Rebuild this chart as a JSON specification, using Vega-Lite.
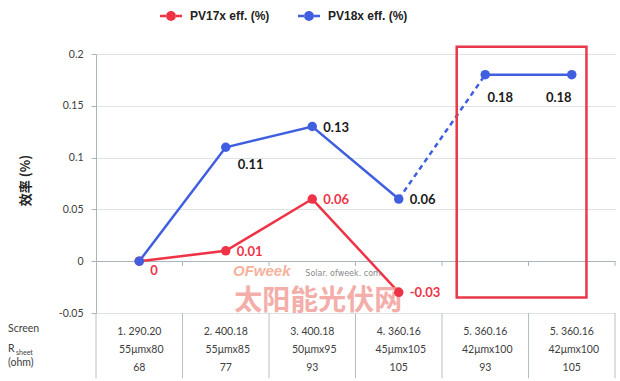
{
  "$schema": "https://vega.github.io/schema/vega-lite/v6.json",
  "width": 519,
  "height": 259,
  "autosize": {"type": "none"},
  "padding": {"left": 96, "top": 54, "right": 5, "bottom": 68},
  "background": "white",
  "config": {"view": {"stroke": null}, "font": "Lato"},
  "datasets": {
    "pts": [
      {"x": 1, "series": "PV17x eff. (%)", "v": 0, "label": "0"},
      {"x": 2, "series": "PV17x eff. (%)", "v": 0.01, "label": "0.01"},
      {"x": 3, "series": "PV17x eff. (%)", "v": 0.06, "label": "0.06"},
      {"x": 4, "series": "PV17x eff. (%)", "v": -0.03, "label": "-0.03"},
      {"x": 1, "series": "PV18x eff. (%)", "v": 0, "label": ""},
      {"x": 2, "series": "PV18x eff. (%)", "v": 0.11, "label": "0.11"},
      {"x": 3, "series": "PV18x eff. (%)", "v": 0.13, "label": "0.13"},
      {"x": 4, "series": "PV18x eff. (%)", "v": 0.06, "label": "0.06"},
      {"x": 5, "series": "PV18x eff. (%)", "v": 0.18, "label": "0.18"},
      {"x": 6, "series": "PV18x eff. (%)", "v": 0.18, "label": "0.18"}
    ],
    "table": [
      {"x": 1, "screen": "1. 290.20", "mesh": "55μmx80", "ohm": "68"},
      {"x": 2, "screen": "2. 400.18", "mesh": "55μmx85", "ohm": "77"},
      {"x": 3, "screen": "3. 400.18", "mesh": "50μmx95", "ohm": "93"},
      {"x": 4, "screen": "4. 360.16", "mesh": "45μmx105", "ohm": "105"},
      {"x": 5, "screen": "5. 360.16", "mesh": "42μmx100", "ohm": "93"},
      {"x": 6, "screen": "5. 360.16", "mesh": "42μmx100", "ohm": "105"}
    ],
    "bounds": [{"b": 0.5}, {"b": 1.5}, {"b": 2.5}, {"b": 3.5}, {"b": 4.5}, {"b": 5.5}, {"b": 6.5}],
    "box": [{"x1": 4.67, "x2": 6.17, "y1": -0.035, "y2": 0.207}],
    "one": [{}]
  },
  "layer": [
    {
      "data": {"name": "pts"},
      "transform": [{"filter": "datum.series === 'PV17x eff. (%)'"}],
      "mark": {"type": "line", "color": "#ee3347", "strokeWidth": 2.5},
      "encoding": {
        "x": {"field": "x", "type": "quantitative", "scale": {"domain": [0.5, 6.5], "nice": false, "zero": false}, "axis": null},
        "y": {"field": "v", "type": "quantitative", "scale": {"domain": [-0.05, 0.2], "nice": false, "zero": false},
          "axis": {
            "values": [-0.05, 0, 0.05, 0.1, 0.15, 0.2],
            "labelExpr": "datum.value < 0 ? '-' + format(-datum.value, '~g') : format(datum.value, '~g')",
            "labelFont": "Lato", "labelFontSize": 10.5, "labelColor": "#404040", "labelPadding": 8,
            "tickSize": 5, "tickColor": "#a9b5bd", "domainColor": "#a9b5bd",
            "grid": true,
            "gridColor": {"condition": {"test": "datum.value === 0", "value": "#a9b5bd"}, "value": "#dde3e7"},
            "title": "效率 (%)", "titleFont": "Noto Sans CJK SC", "titleFontSize": 13, "titleFontWeight": "bold",
            "titleColor": "#222222", "titleX": -71, "titleY": 126, "titleAngle": 270, "titleAlign": "center", "titleBaseline": "middle"
          }}
      }
    },
    {
      "data": {"name": "bounds"},
      "mark": {"type": "rule", "color": "#b5c0c6", "strokeWidth": 1},
      "encoding": {
        "x": {"field": "b", "type": "quantitative", "axis": null},
        "y": {"datum": -0.05, "type": "quantitative"},
        "y2": {"datum": -0.113}
      }
    },
    {
      "data": {"name": "bounds"},
      "transform": [{"filter": "datum.b > 1"}],
      "mark": {"type": "rule", "color": "#a9b5bd", "strokeWidth": 1},
      "encoding": {
        "x": {"field": "b", "type": "quantitative", "axis": null},
        "y": {"datum": 0, "type": "quantitative"},
        "y2": {"datum": -0.0045}
      }
    },
    {
      "data": {"name": "table"},
      "mark": {"type": "text", "font": "Lato", "fontSize": 10.5, "color": "#404040", "baseline": "middle", "dy": 19},
      "encoding": {
        "x": {"field": "x", "type": "quantitative", "axis": null},
        "y": {"datum": -0.05, "type": "quantitative"},
        "text": {"field": "screen"}
      }
    },
    {
      "data": {"name": "table"},
      "mark": {"type": "text", "font": "Lato", "fontSize": 10.5, "color": "#404040", "baseline": "middle", "dy": 37, "dx": 2},
      "encoding": {
        "x": {"field": "x", "type": "quantitative", "axis": null},
        "y": {"datum": -0.05, "type": "quantitative"},
        "text": {"field": "mesh"}
      }
    },
    {
      "data": {"name": "table"},
      "mark": {"type": "text", "font": "Lato", "fontSize": 10.5, "color": "#404040", "baseline": "middle", "dy": 55},
      "encoding": {
        "x": {"field": "x", "type": "quantitative", "axis": null},
        "y": {"datum": -0.05, "type": "quantitative"},
        "text": {"field": "ohm"}
      }
    },
    {
      "data": {"name": "one"},
      "mark": {"type": "text", "font": "Lato", "fontSize": 10.5, "color": "#404040", "baseline": "middle", "align": "left", "dx": -88, "dy": 16},
      "encoding": {
        "x": {"datum": 0.5, "type": "quantitative", "axis": null},
        "y": {"datum": -0.05, "type": "quantitative"},
        "text": {"value": "Screen"}
      }
    },
    {
      "data": {"name": "one"},
      "mark": {"type": "text", "font": "Lato", "fontSize": 10.5, "color": "#404040", "baseline": "middle", "align": "left", "dx": -88, "dy": 36},
      "encoding": {
        "x": {"datum": 0.5, "type": "quantitative", "axis": null},
        "y": {"datum": -0.05, "type": "quantitative"},
        "text": {"value": "R"}
      }
    },
    {
      "data": {"name": "one"},
      "mark": {"type": "text", "font": "Lato", "fontSize": 7, "color": "#404040", "baseline": "middle", "align": "left", "dx": -80, "dy": 40},
      "encoding": {
        "x": {"datum": 0.5, "type": "quantitative", "axis": null},
        "y": {"datum": -0.05, "type": "quantitative"},
        "text": {"value": "sheet"}
      }
    },
    {
      "data": {"name": "one"},
      "mark": {"type": "text", "font": "Lato", "fontSize": 10.5, "color": "#404040", "baseline": "middle", "align": "left", "dx": -88, "dy": 50},
      "encoding": {
        "x": {"datum": 0.5, "type": "quantitative", "axis": null},
        "y": {"datum": -0.05, "type": "quantitative"},
        "text": {"value": "(ohm)"}
      }
    },
    {
      "data": {"name": "one"},
      "mark": {"type": "text", "font": "Noto Sans CJK SC", "fontSize": 28, "fontWeight": "bold", "color": "#f29a94", "opacity": 0.8, "baseline": "middle", "align": "center"},
      "encoding": {
        "x": {"datum": 3.07, "type": "quantitative", "axis": null},
        "y": {"datum": -0.0395, "type": "quantitative"},
        "text": {"value": "太阳能光伏网"}
      }
    },
    {
      "data": {"name": "one"},
      "mark": {"type": "text", "font": "Liberation Sans", "fontSize": 15, "fontWeight": "bold", "fontStyle": "italic", "color": "#f4a68c", "opacity": 0.85, "baseline": "middle", "align": "left"},
      "encoding": {
        "x": {"datum": 2.084, "type": "quantitative", "axis": null},
        "y": {"datum": -0.0095, "type": "quantitative"},
        "text": {"value": "OFweek"}
      }
    },
    {
      "data": {"name": "one"},
      "mark": {"type": "text", "font": "DejaVu Sans", "fontSize": 8, "color": "#8a8a8a", "baseline": "middle", "align": "left"},
      "encoding": {
        "x": {"datum": 2.92, "type": "quantitative", "axis": null},
        "y": {"datum": -0.0125, "type": "quantitative"},
        "text": {"value": "Solar. ofweek. com"}
      }
    },
    {
      "data": {"name": "pts"},
      "transform": [{"filter": "datum.series === 'PV18x eff. (%)' && datum.x <= 4"}],
      "mark": {"type": "line", "color": "#3f5fe0", "strokeWidth": 2.5},
      "encoding": {
        "x": {"field": "x", "type": "quantitative", "axis": null},
        "y": {"field": "v", "type": "quantitative"}
      }
    },
    {
      "data": {"name": "pts"},
      "transform": [{"filter": "datum.series === 'PV18x eff. (%)' && datum.x >= 4 && datum.x <= 5"}],
      "mark": {"type": "line", "color": "#3f5fe0", "strokeWidth": 2.5, "strokeDash": [5, 4]},
      "encoding": {
        "x": {"field": "x", "type": "quantitative", "axis": null},
        "y": {"field": "v", "type": "quantitative"}
      }
    },
    {
      "data": {"name": "pts"},
      "transform": [{"filter": "datum.series === 'PV18x eff. (%)' && datum.x >= 5"}],
      "mark": {"type": "line", "color": "#3f5fe0", "strokeWidth": 2.5},
      "encoding": {
        "x": {"field": "x", "type": "quantitative", "axis": null},
        "y": {"field": "v", "type": "quantitative"}
      }
    },
    {
      "data": {"name": "pts"},
      "mark": {"type": "point", "filled": true, "opacity": 1, "size": 90},
      "encoding": {
        "x": {"field": "x", "type": "quantitative", "axis": null},
        "y": {"field": "v", "type": "quantitative"},
        "color": {
          "field": "series", "type": "nominal",
          "scale": {"domain": ["PV17x eff. (%)", "PV18x eff. (%)"], "range": ["#ee3347", "#3f5fe0"]},
          "legend": {
            "title": null, "orient": "none", "direction": "horizontal", "legendX": 64, "legendY": -49,
            "padding": 0, "columnPadding": 28, "labelOffset": 8,
            "symbolType": "M-1,-0.11H-0.43V0.11H-1Z M0.43,-0.11H1V0.11H0.43Z M-0.45,0A0.45,0.45,0,1,0,0.45,0A0.45,0.45,0,1,0,-0.45,0Z",
            "symbolSize": 484, "symbolStrokeWidth": 0,
            "labelFont": "Liberation Sans", "labelFontSize": 12, "labelFontWeight": "bold", "labelColor": "#222222"
          }
        }
      }
    },
    {
      "data": {"name": "pts"},
      "transform": [{"filter": "datum.series === 'PV17x eff. (%)' && datum.x === 1"}],
      "mark": {"type": "text", "font": "Lato", "fontSize": 13, "fontWeight": "bold", "color": "#ee3347", "align": "left", "baseline": "middle", "dx": 11, "dy": 10},
      "encoding": {
        "x": {"field": "x", "type": "quantitative", "axis": null},
        "y": {"field": "v", "type": "quantitative"},
        "text": {"field": "label"}
      }
    },
    {
      "data": {"name": "pts"},
      "transform": [{"filter": "datum.series === 'PV17x eff. (%)' && datum.x > 1"}],
      "mark": {"type": "text", "font": "Lato", "fontSize": 13, "fontWeight": "bold", "color": "#ee3347", "align": "left", "baseline": "middle", "dx": 11, "dy": 1},
      "encoding": {
        "x": {"field": "x", "type": "quantitative", "axis": null},
        "y": {"field": "v", "type": "quantitative"},
        "text": {"field": "label"}
      }
    },
    {
      "data": {"name": "pts"},
      "transform": [{"filter": "datum.series === 'PV18x eff. (%)' && datum.x === 2"}],
      "mark": {"type": "text", "font": "Lato", "fontSize": 13, "fontWeight": "bold", "color": "#1a1a1a", "align": "left", "baseline": "middle", "dx": 12, "dy": 18},
      "encoding": {
        "x": {"field": "x", "type": "quantitative", "axis": null},
        "y": {"field": "v", "type": "quantitative"},
        "text": {"field": "label"}
      }
    },
    {
      "data": {"name": "pts"},
      "transform": [{"filter": "datum.series === 'PV18x eff. (%)' && (datum.x === 3 || datum.x === 4)"}],
      "mark": {"type": "text", "font": "Lato", "fontSize": 13, "fontWeight": "bold", "color": "#1a1a1a", "align": "left", "baseline": "middle", "dx": 11, "dy": 1},
      "encoding": {
        "x": {"field": "x", "type": "quantitative", "axis": null},
        "y": {"field": "v", "type": "quantitative"},
        "text": {"field": "label"}
      }
    },
    {
      "data": {"name": "pts"},
      "transform": [{"filter": "datum.series === 'PV18x eff. (%)' && datum.x === 5"}],
      "mark": {"type": "text", "font": "Lato", "fontSize": 13, "fontWeight": "bold", "color": "#1a1a1a", "align": "center", "baseline": "middle", "dx": 15, "dy": 23},
      "encoding": {
        "x": {"field": "x", "type": "quantitative", "axis": null},
        "y": {"field": "v", "type": "quantitative"},
        "text": {"field": "label"}
      }
    },
    {
      "data": {"name": "pts"},
      "transform": [{"filter": "datum.series === 'PV18x eff. (%)' && datum.x === 6"}],
      "mark": {"type": "text", "font": "Lato", "fontSize": 13, "fontWeight": "bold", "color": "#1a1a1a", "align": "center", "baseline": "middle", "dx": -13, "dy": 23},
      "encoding": {
        "x": {"field": "x", "type": "quantitative", "axis": null},
        "y": {"field": "v", "type": "quantitative"},
        "text": {"field": "label"}
      }
    },
    {
      "data": {"name": "box"},
      "mark": {"type": "rect", "fill": null, "fillOpacity": 0, "stroke": "#e8384a", "strokeWidth": 2.5},
      "encoding": {
        "x": {"field": "x1", "type": "quantitative", "axis": null},
        "x2": {"field": "x2"},
        "y": {"field": "y1", "type": "quantitative"},
        "y2": {"field": "y2"}
      }
    }
  ]
}
